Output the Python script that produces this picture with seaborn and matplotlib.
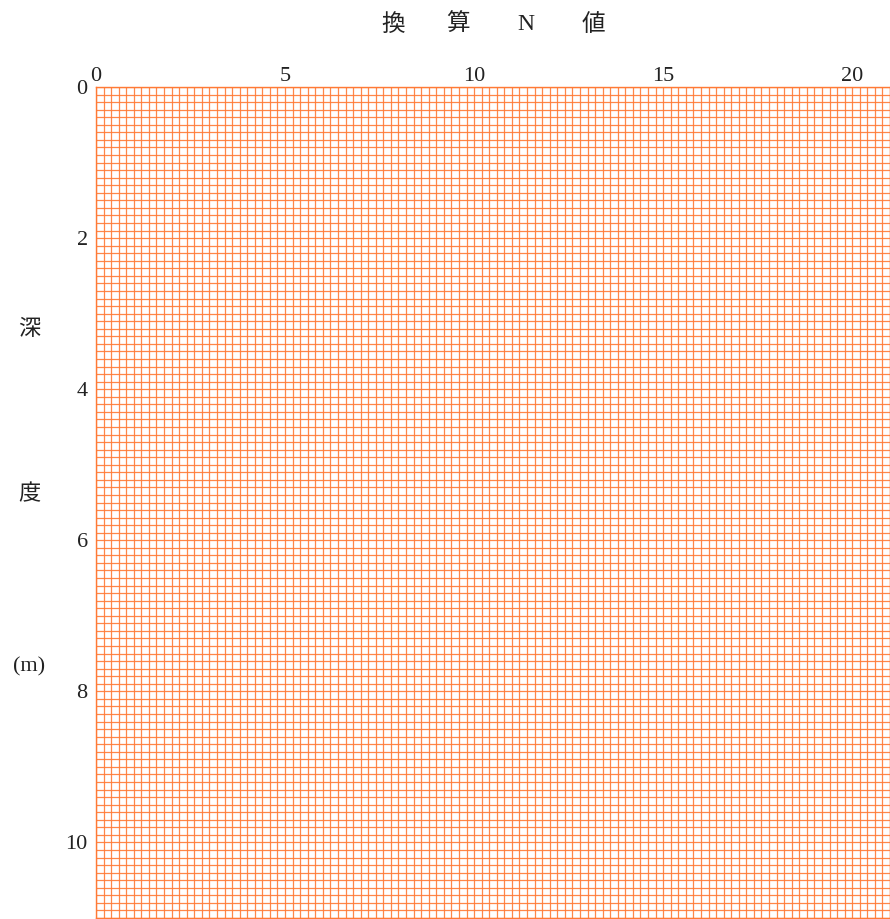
import numpy as np
import matplotlib
matplotlib.use("Agg")
import matplotlib.pyplot as plt
from matplotlib.ticker import MultipleLocator
import seaborn as sns

# Axis data (empty N-value log sheet)
n_ticks = [0, 5, 10, 15, 20]
depth_ticks = [0, 2, 4, 6, 8, 10]
n_range = (0, 21)
depth_range = (0, 11)
n_minor = 0.2
depth_minor = 0.1

title_chars = ["換", "算", "N", "値"]
ylabel_parts = ["深", "度", "(m)"]

sns.set_theme(style="white")
plt.rcParams['font.family'] = ['Liberation Serif', 'Noto Sans CJK JP', 'DejaVu Sans']

grid_color = '#ff7a35'

fig = plt.figure(figsize=(8.9, 9.19), dpi=100)
ax = fig.add_axes([96 / 890, 1 - 918 / 919, 794 / 890, (918 - 87) / 919])

ax.set_xlim(*n_range)
ax.set_ylim(depth_range[1], depth_range[0])

ax.set_xticks(n_ticks)
ax.set_yticks(depth_ticks)
ax.xaxis.set_minor_locator(MultipleLocator(n_minor))
ax.yaxis.set_minor_locator(MultipleLocator(depth_minor))
ax.xaxis.tick_top()
ax.tick_params(axis='both', which='both', length=0, labelsize=16, colors='#222222')
ax.tick_params(axis='x', pad=1)
ax.tick_params(axis='y', pad=6)

ax.grid(True, which='both', color=grid_color, linewidth=0.9, alpha=0.9)
ax.set_axisbelow(True)
for s in ax.spines.values():
    s.set_color(grid_color)
    s.set_linewidth(1.0)

# title characters, widely spaced
for ch, px in zip(title_chars, [393, 458, 526, 593]):
    fig.text(px / 890, 1 - 25 / 919, ch, ha='center', va='center', fontsize=17, color='#222222')

# vertical depth label pieces
for part, py in zip(ylabel_parts, [330, 495, 667]):
    fig.text(29 / 890, 1 - py / 919, part, ha='center', va='center', fontsize=16, color='#222222')

fig.savefig("out.png", dpi=100)
